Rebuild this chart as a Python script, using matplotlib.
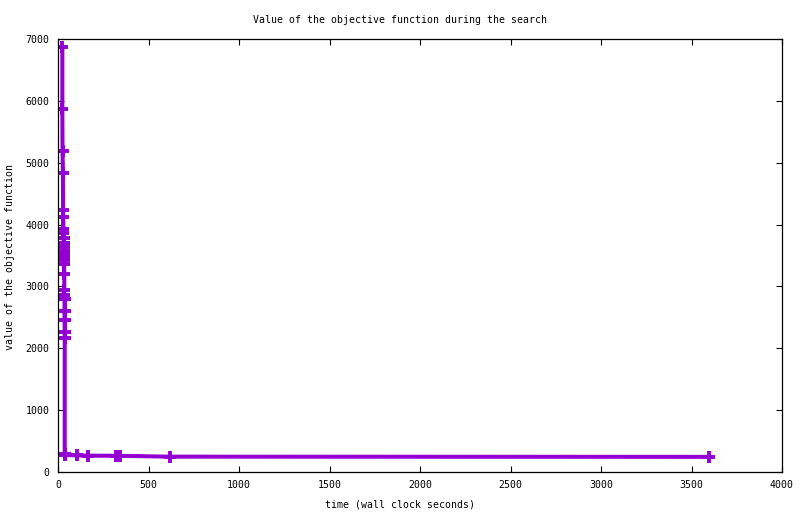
import matplotlib
matplotlib.use("Agg")
import matplotlib.pyplot as plt

# search trace: wall clock seconds vs objective value
times = [24, 24, 25, 27, 28, 29, 30, 30, 31, 31, 32, 32, 33, 33, 34, 34,
         35, 35, 35, 36, 36, 36, 37, 37, 37, 38,
         107, 168, 320, 342, 619, 3597]
values = [6870, 5865, 5190, 4840, 4235, 4125, 3930, 3860, 3780, 3700, 3640, 3580,
          3520, 3470, 3420, 3360, 3200, 2940, 2860, 2790, 2610, 2460, 2270, 2160,
          290, 275,
          268, 265, 262, 262, 248, 245]

title = "Value of the objective function during the search"
xlabel = "time (wall clock seconds)"
ylabel = "value of the objective function"
xticks = [0, 500, 1000, 1500, 2000, 2500, 3000, 3500, 4000]
yticks = [0, 1000, 2000, 3000, 4000, 5000, 6000, 7000]

plt.rcParams['font.family'] = ['DejaVu Sans Mono']
fs = 7.1

fig = plt.figure(figsize=(8, 5.14), dpi=100)
ax = fig.add_axes([0.0725, 0.0817, 0.905, 0.8425])

ax.plot(times, values, color='#9400d3', lw=2.9, marker='+', ms=8.5, mew=2.8,
        solid_joinstyle='miter')

ax.set_xlim(0, 4000)
ax.set_ylim(0, 7000)
ax.set_xticks(xticks)
ax.set_yticks(yticks)
ax.tick_params(direction='in', length=4, width=0.8, top=True, right=True,
               pad=6, labelsize=fs)
for s in ax.spines.values():
    s.set_linewidth(0.9)

fig.text(0.5, 0.962, title, ha='center', va='center', fontsize=fs)
fig.text(0.5, 0.018, xlabel, ha='center', va='center', fontsize=fs)
fig.text(0.013, 0.5, ylabel, ha='center', va='center', rotation=90, fontsize=fs)

fig.savefig("out.png", dpi=100)
